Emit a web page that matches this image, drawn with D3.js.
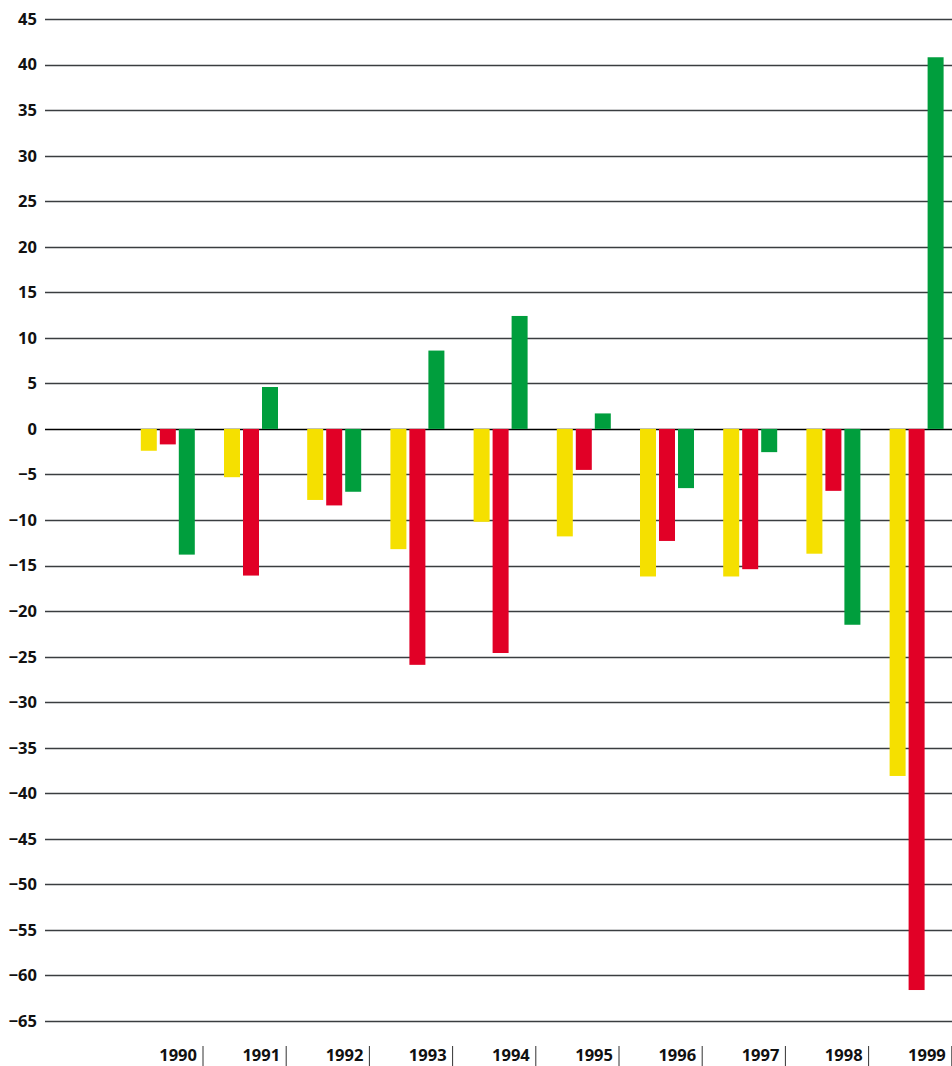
<!DOCTYPE html>
<html>
<head>
<meta charset="utf-8">
<script src="https://cdn.jsdelivr.net/npm/d3@7"></script>
<style>
  body { margin: 0; background: #fff; }
  text { font-family: "Noto Sans", sans-serif; font-weight: bold; font-size: 16.5px; fill: #111; }
</style>
</head>
<body>
<script>
var width = 952;
var height = 1066;

var years = ["1990", "1991", "1992", "1993", "1994", "1995", "1996", "1997", "1998", "1999"];
var series = ["yellow", "red", "green"];
var colors = ["#f5e000", "#e10026", "#009e3d"];
var yellowValues = [-2.4, -5.3, -7.8, -13.2, -10.2, -11.8, -16.2, -16.2, -13.7, -38.1];
var redValues = [-1.7, -16.1, -8.4, -25.9, -24.6, -4.5, -12.3, -15.4, -6.8, -61.6];
var greenValues = [-13.8, 4.6, -6.9, 8.6, 12.4, 1.7, -6.5, -2.55, -21.5, 40.8];
var yTicks = d3.range(45, -66, -5);

var values = [yellowValues, redValues, greenValues];

var svg = d3.select("body")
            .append("svg")
            .attr("width", width)
            .attr("height", height);

var y = d3.scaleLinear().domain([-65, 45]).range([1021, 19]);
var x0 = d3.scaleBand().domain(years).range([119.8, 951.8]);
var x1 = d3.scaleBand().domain(series).range([21, 75]).paddingInner(3 / 19);

// grid lines + y labels
svg.selectAll("line.grid")
  .data(yTicks)
  .enter().append("line")
  .attr("class", "grid")
  .attr("x1", 45)
  .attr("x2", width)
  .attr("y1", function(d) { return Math.round(y(d)) + 0.5; })
  .attr("y2", function(d) { return Math.round(y(d)) + 0.5; })
  .style("stroke", function(d) { return d === 0 ? "#000" : "#3a3d40"; })
  .style("stroke-width", 1.3);

svg.selectAll("text.ylab")
  .data(yTicks)
  .enter().append("text")
  .attr("class", "ylab")
  .attr("x", 37)
  .attr("y", function(d) { return y(d); })
  .attr("dy", "0.36em")
  .attr("text-anchor", "end")
  .text(function(d) { return d < 0 ? "\u2212" + Math.abs(d) : d; });

// bars
series.forEach(function(s, si) {
  svg.selectAll("rect." + s)
    .data(values[si])
    .enter().append("rect")
    .attr("class", s)
    .attr("x", function(d, i) { return x0(years[i]) + x1(s); })
    .attr("width", x1.bandwidth())
    .attr("y", function(d) { return y(Math.max(0, d)); })
    .attr("height", function(d) { return Math.abs(y(d) - y(0)); })
    .style("fill", colors[si]);
});

// year labels with separators
svg.selectAll("text.year")
  .data(years)
  .enter().append("text")
  .attr("class", "year")
  .attr("x", function(d) { return x0(d) + x0.bandwidth() - 6; })
  .attr("y", 1061)
  .attr("text-anchor", "end")
  .text(function(d) { return d; });

svg.selectAll("line.sep")
  .data(years)
  .enter().append("line")
  .attr("class", "sep")
  .attr("x1", function(d) { return x0(d) + x0.bandwidth(); })
  .attr("x2", function(d) { return x0(d) + x0.bandwidth(); })
  .attr("y1", 1046)
  .attr("y2", 1066)
  .style("stroke", "#333")
  .style("stroke-width", 1);
</script>
</body>
</html>
